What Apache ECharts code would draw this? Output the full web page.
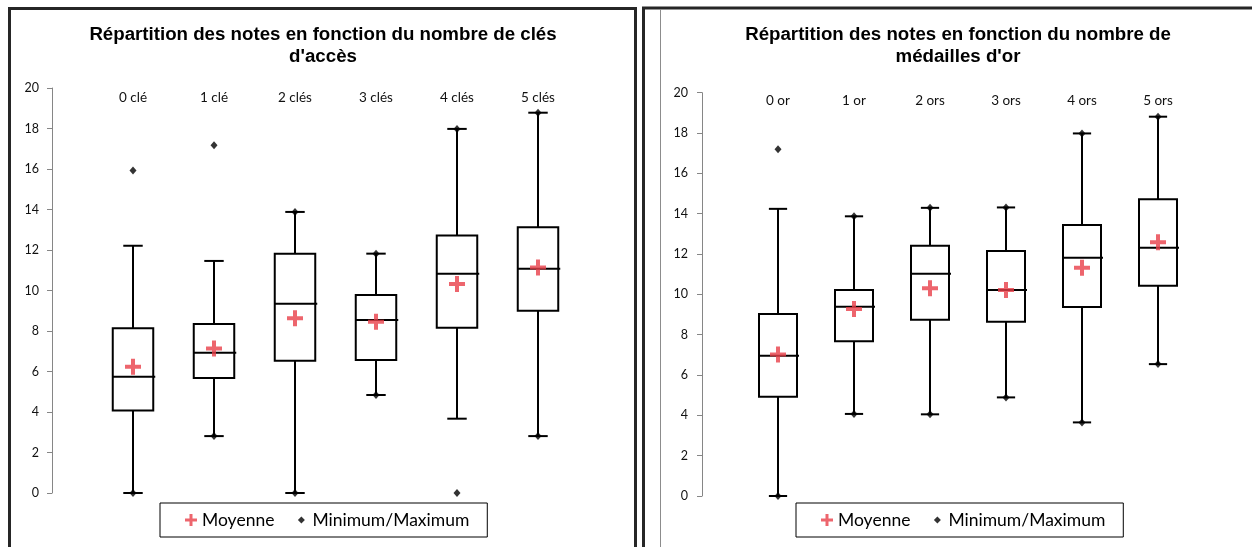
<!DOCTYPE html>
<html>
<head>
<meta charset="utf-8">
<script src="https://cdn.jsdelivr.net/npm/echarts@6/dist/echarts.min.js"></script>
<style>
html,body{margin:0;padding:0;background:#fff;}
#chart{width:1252px;height:547px;}
</style>
</head>
<body>
<div id="chart"></div>
<script>
// ---- Left chart: number of access keys ----
const catsKeys = ['0 clé', '1 clé', '2 clés', '3 clés', '4 clés', '5 clés'];
const keysWhiskerLow = [0, 2.81, 0, 4.84, 3.67, 2.81];
const keysQ1 = [4.07, 5.68, 6.53, 6.57, 8.16, 9.0];
const keysMedian = [5.74, 6.93, 9.35, 8.54, 10.83, 11.08];
const keysQ3 = [8.13, 8.35, 11.82, 9.78, 12.71, 13.12];
const keysWhiskerHigh = [12.21, 11.46, 13.88, 11.82, 17.98, 18.78];
const keysMean = [6.24, 7.14, 8.63, 8.46, 10.32, 11.13];
const keysMin = [0, 2.81, 0, 4.84, 0, 2.81];
const keysMax = [15.93, 17.17, 13.88, 11.82, 17.98, 18.78];

// ---- Right chart: number of gold medals ----
const catsGold = ['0 or', '1 or', '2 ors', '3 ors', '4 ors', '5 ors'];
const goldWhiskerLow = [0, 4.07, 4.05, 4.89, 3.65, 6.54];
const goldQ1 = [4.92, 7.68, 8.74, 8.64, 9.37, 10.43];
const goldMedian = [6.96, 9.39, 11.02, 10.21, 11.82, 12.31];
const goldQ3 = [9.02, 10.21, 12.41, 12.15, 13.44, 14.71];
const goldWhiskerHigh = [14.24, 13.87, 14.29, 14.31, 17.98, 18.81];
const goldMean = [7.02, 9.27, 10.30, 10.21, 11.32, 12.58];
const goldMin = [0, 4.07, 4.05, 4.89, 3.65, 6.54];
const goldMax = [17.19, 13.87, 14.29, 14.31, 17.98, 18.81];

const yTicks = [0, 2, 4, 6, 8, 10, 12, 14, 16, 18, 20];

const titleKeys = "Répartition des notes en fonction du nombre de clés\nd'accès";
const titleGold = "Répartition des notes en fonction du nombre de\nmédailles d'or";

const PLUS = 'path://M6,0L10,0L10,6L16,6L16,10L10,10L10,16L6,16L6,10L0,10L0,6L6,6Z';
const DIAMOND_LEGEND = 'path://M0,0L0.01,0M12,12L12.01,12M6,2.5L9.5,6L6,9.5L2.5,6Z';
const RED = '#E83F49';
const AXIS_GRAY = '#868686';
const FONT = 'Lato, "Open Sans", sans-serif';

function boxData(lo, q1, med, q3, hi) {
  return lo.map((v, i) => [i + 1, lo[i], q1[i], med[i], q3[i], hi[i]]);
}
function pointData(vals) { return vals.map((v, i) => [i + 1, v]); }
function minMaxData(mins, maxs) {
  const out = [];
  mins.forEach((v, i) => out.push([i + 1, v]));
  maxs.forEach((v, i) => out.push([i + 1, v]));
  return out;
}

function renderBox(params, api) {
  const x = api.value(0);
  const pLo = api.coord([x, api.value(1)]);
  const pQ1 = api.coord([x, api.value(2)]);
  const pMed = api.coord([x, api.value(3)]);
  const pQ3 = api.coord([x, api.value(4)]);
  const pHi = api.coord([x, api.value(5)]);
  const boxW = api.size([0.5, 0])[0];
  const capW = api.size([0.24, 0])[0];
  const cx = pQ1[0];
  const st = { stroke: '#000', lineWidth: 2, fill: null };
  return {
    type: 'group',
    children: [
      { type: 'line', shape: { x1: cx, y1: pQ3[1], x2: cx, y2: pHi[1] }, style: st },
      { type: 'line', shape: { x1: cx, y1: pQ1[1], x2: cx, y2: pLo[1] }, style: st },
      { type: 'line', shape: { x1: cx - capW / 2, y1: pHi[1], x2: cx + capW / 2, y2: pHi[1] }, style: st },
      { type: 'line', shape: { x1: cx - capW / 2, y1: pLo[1], x2: cx + capW / 2, y2: pLo[1] }, style: st },
      { type: 'rect', shape: { x: cx - boxW / 2, y: pQ3[1], width: boxW, height: pQ1[1] - pQ3[1] }, style: { stroke: '#000', lineWidth: 2, fill: '#fff' } },
      { type: 'line', shape: { x1: cx - boxW / 2, y1: pMed[1], x2: cx + boxW / 2 + 2, y2: pMed[1] }, style: st }
    ]
  };
}

function makeXAxis(gridIndex, cats, margin) {
  return {
    type: 'value', gridIndex: gridIndex, position: 'top', min: 0, max: 7, interval: 1,
    axisLine: { show: false }, axisTick: { show: false }, splitLine: { show: false },
    axisLabel: {
      inside: true, margin: margin, color: '#111', fontFamily: FONT, fontSize: 13.5,
      formatter: function (v) { return cats[v - 1] !== undefined ? cats[v - 1] : ''; }
    }
  };
}
function makeYAxis(gridIndex, margin) {
  return {
    type: 'value', gridIndex: gridIndex, min: yTicks[0], max: yTicks[yTicks.length - 1], interval: 2,
    axisLine: { show: true, lineStyle: { color: AXIS_GRAY, width: 1 } },
    axisTick: { show: true, length: 5, lineStyle: { color: AXIS_GRAY } },
    splitLine: { show: false },
    axisLabel: { margin: margin, color: '#111', fontFamily: FONT, fontSize: 12.5 }
  };
}
function makeSeries(idx, lo, q1, med, q3, hi, mean, mins, maxs) {
  return [
    { type: 'custom', name: 'Box', xAxisIndex: idx, yAxisIndex: idx, renderItem: renderBox,
      data: boxData(lo, q1, med, q3, hi), encode: { x: 0, y: [1, 2, 3, 4, 5] }, z: 2, silent: true },
    { type: 'scatter', name: 'Minimum/Maximum', xAxisIndex: idx, yAxisIndex: idx, symbol: 'diamond',
      symbolSize: [7, 8], itemStyle: { color: '#000' }, data: minMaxData(mins, maxs), z: 4 },
    { type: 'scatter', name: 'Moyenne', xAxisIndex: idx, yAxisIndex: idx, symbol: PLUS,
      symbolSize: 16, itemStyle: { color: RED }, data: pointData(mean), z: 5 }
  ];
}
function makeLegend(left) {
  return {
    left: left, top: 503, orient: 'horizontal',
    padding: [8, 18, 8, 25], itemGap: 21, itemWidth: 12, itemHeight: 12,
    borderColor: '#000', borderWidth: 1, backgroundColor: '#fff',
    textStyle: { fontFamily: FONT, fontSize: 17.5, color: '#000' },
    data: [
      { name: 'Moyenne', icon: PLUS },
      { name: 'Minimum/Maximum', icon: DIAMOND_LEGEND }
    ]
  };
}

const chart = echarts.init(document.getElementById('chart'), null, { renderer: 'canvas' });
const titleStyle = { fontFamily: '"Liberation Sans", Arial, sans-serif', fontWeight: 'bold', fontSize: 18.7, lineHeight: 22, color: '#000' };
chart.setOption({
  animation: false,
  backgroundColor: '#fff',
  title: [
    { text: titleKeys, left: 323, top: 24, padding: 0, textAlign: 'center', textStyle: titleStyle },
    { text: titleGold, left: 958, top: 24, padding: 0, textAlign: 'center', textStyle: titleStyle }
  ],
  legend: [makeLegend(160), makeLegend(796)],
  grid: [
    { left: 52, top: 88, width: 567, height: 405 },
    { left: 702, top: 92.7, width: 532, height: 403.3 }
  ],
  xAxis: [makeXAxis(0, catsKeys, 3), makeXAxis(1, catsGold, 1)],
  yAxis: [makeYAxis(0, 13), makeYAxis(1, 14)],
  series: [].concat(
    makeSeries(0, keysWhiskerLow, keysQ1, keysMedian, keysQ3, keysWhiskerHigh, keysMean, keysMin, keysMax),
    makeSeries(1, goldWhiskerLow, goldQ1, goldMedian, goldQ3, goldWhiskerHigh, goldMean, goldMin, goldMax)
  ),
  graphic: [
    { type: 'rect', shape: { x: 9.5, y: 8.5, width: 626, height: 560 }, style: { stroke: '#262626', lineWidth: 3, fill: null }, silent: true, z: 100 },
    { type: 'rect', shape: { x: 643.5, y: 8, width: 640, height: 560 }, style: { stroke: '#262626', lineWidth: 3, fill: null }, silent: true, z: 100 },
    { type: 'line', shape: { x1: 660.5, y1: 9, x2: 660.5, y2: 547 }, style: { stroke: '#8c8c8c', lineWidth: 1 }, silent: true, z: 100 }
  ]
});
</script>
</body>
</html>
